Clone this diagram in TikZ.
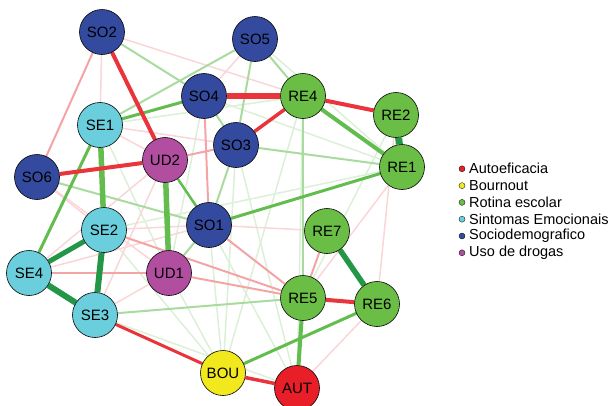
\documentclass[tikz,border=0pt]{standalone}
\usepackage{fontspec}
\setmainfont{Liberation Sans}
\usetikzlibrary{backgrounds}
\definecolor{autoc}{RGB}{232,30,40}
\definecolor{bouc}{RGB}{242,232,30}
\definecolor{rotc}{RGB}{107,190,69}
\definecolor{sinc}{RGB}{106,206,220}
\definecolor{socc}{RGB}{52,74,158}
\definecolor{usoc}{RGB}{178,78,160}
\definecolor{edgegreen}{RGB}{98,188,78}
\definecolor{edgedark}{RGB}{36,150,72}
\definecolor{edgered}{RGB}{232,52,58}
\begin{document}
\begin{tikzpicture}[x=1pt,y=-1pt,
    var/.style={circle,draw,line width=0.6pt,minimum size=45pt,inner sep=0pt,font=\fontsize{15}{17}\selectfont},
    legdot/.style={circle,draw,line width=0.3pt,minimum size=6pt,inner sep=0pt},
    pos/.style={draw=edgegreen,line width=#1},
    dpos/.style={draw=edgedark,line width=#1},
    neg/.style={draw=edgered,line width=#1},
    lpos/.style={draw=edgegreen!55,line width=2pt},
    lneg/.style={draw=edgered!45,line width=2pt},
    fpos/.style={draw=edgegreen!22,line width=1.5pt},
    fneg/.style={draw=edgered!20,line width=1.5pt}]
    \useasboundingbox (0,0) rectangle (608,405);
    % nodes
    \node[var,fill=socc] (SO2) at (102,32) {SO2};
    \node[var,fill=socc] (SO5) at (255,39) {SO5};
    \node[var,fill=socc] (SO4) at (204,96) {SO4};
    \node[var,fill=rotc] (RE4) at (303,96) {RE4};
    \node[var,fill=rotc] (RE2) at (396,115) {RE2};
    \node[var,fill=rotc] (RE1) at (402,167) {RE1};
    \node[var,fill=sinc] (SE1) at (100,125) {SE1};
    \node[var,fill=socc] (SO3) at (236,145) {SO3};
    \node[var,fill=usoc] (UD2) at (165,160) {UD2};
    \node[var,fill=socc] (SO6) at (37,177) {SO6};
    \node[var,fill=socc] (SO1) at (209,225) {SO1};
    \node[var,fill=sinc] (SE2) at (104,230) {SE2};
    \node[var,fill=rotc] (RE7) at (327,231) {RE7};
    \node[var,fill=usoc] (UD1) at (169,273) {UD1};
    \node[var,fill=sinc] (SE4) at (29,273) {SE4};
    \node[var,fill=sinc] (SE3) at (95,315) {SE3};
    \node[var,fill=rotc] (RE5) at (303,298) {RE5};
    \node[var,fill=rotc] (RE6) at (377,304) {RE6};
    \node[var,fill=bouc] (BOU) at (223,373) {BOU};
    \node[var,fill=autoc] (AUT) at (297,388) {AUT};
    % edges
    \begin{pgfonlayer}{background}
        \foreach \a/\b in {SO5/RE1,SE2/RE1,RE4/BOU,SO3/AUT,RE2/RE5,SE1/UD1,SO3/BOU,SO1/BOU,SE3/AUT,SO4/RE1,SE1/RE4,SE2/BOU,UD1/BOU,SO4/UD1,RE4/AUT,SO1/AUT}
            \draw[fpos] (\a) -- (\b);
        \foreach \a/\b in {SE1/SO3,RE1/RE5,SE2/SO1,SE1/UD2,SO6/SE2,SE4/SO1,SE3/UD2,SO2/RE4,SO2/SE1,SO5/SO4,RE6/AUT,RE7/SO1,SE3/UD1,SE4/UD2,SO6/UD1,RE2/RE6}
            \draw[fneg] (\a) -- (\b);
        \foreach \a/\b in {SE1/SO5,SO5/SO3,SO5/RE4,SO2/SO4,SO3/RE1,SO6/SO1,SO3/SO1,SE3/RE5,SO4/SO3,UD1/SO1,RE4/RE5}
            \draw[lpos] (\a) -- (\b);
        \foreach \a/\b in {SO2/SO6,SO4/SO1,UD2/SO3,SO1/RE5,RE7/RE5,SE2/RE5,UD1/RE5,SE4/UD1}
            \draw[lneg] (\a) -- (\b);
        \draw[pos=2.5pt] (UD2) -- (SO1);
        \draw[pos=3pt] (SE1) -- (SO4);
        \draw[pos=3pt] (SE1) -- (SE4);
        \draw[pos=3pt] (SO1) -- (RE1);
        \draw[pos=3pt] (BOU) -- (RE6);
        \draw[pos=4pt] (RE4) -- (RE1);
        \draw[pos=4pt] (RE5) -- (AUT);
        \draw[pos=5.5pt] (SE1) -- (SE2);
        \draw[pos=5.5pt] (UD2) -- (UD1);
        \draw[dpos=5pt] (SE2) -- (SE4);
        \draw[dpos=5.5pt] (RE7) -- (RE6);
        \draw[dpos=6pt] (SE2) -- (SE3);
        \draw[dpos=6pt] (SE4) -- (SE3);
        \draw[dpos=7pt] (RE2) -- (RE1);
        \draw[neg=3pt] (SE3) -- (BOU);
        \draw[neg=3.5pt] (BOU) -- (AUT);
        \draw[neg=3.5pt] (SO3) -- (RE4);
        \draw[neg=4pt] (SO2) -- (UD2);
        \draw[neg=4pt] (SO6) -- (UD2);
        \draw[neg=4pt] (RE4) -- (RE2);
        \draw[neg=4pt] (RE5) -- (RE6);
        \draw[neg=6pt] (SO4) -- (RE4);
    \end{pgfonlayer}
    % legend
    \foreach \t/\c [count=\i] in {Autoeficacia/autoc,Bournout/bouc,Rotina escolar/rotc,Sintomas Emocionais/sinc,Sociodemografico/socc,Uso de drogas/usoc}{
        \node[legdot,fill=\c] (dot\i) at (462,{152+16.8*\i}) {};
        \node[anchor=west,inner sep=0pt,font=\fontsize{14.5}{16}\selectfont] (leg\i) at (469,{152+16.8*\i}) {\t};
    }
\end{tikzpicture}
\end{document}
